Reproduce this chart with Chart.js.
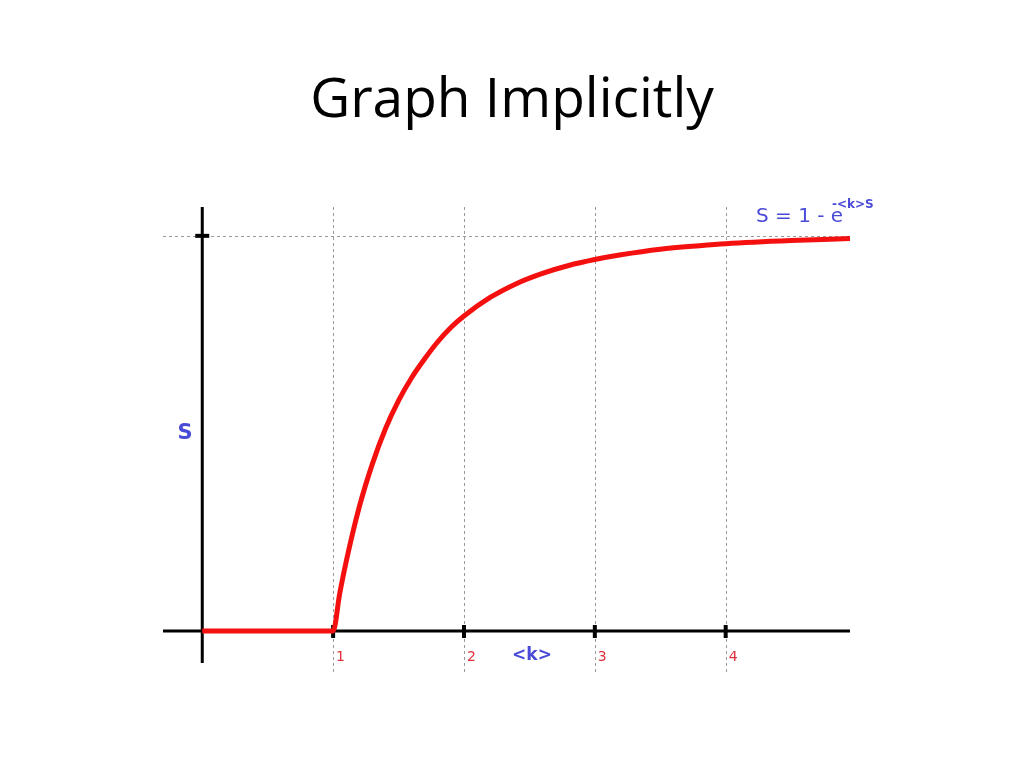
<!DOCTYPE html>
<html>
<head>
<meta charset="utf-8">
<script src="https://cdn.jsdelivr.net/npm/chart.js@4"></script>
<style>
  html, body { margin: 0; padding: 0; background: #fff; }
  #wrap { position: relative; width: 1024px; height: 768px; }
  #title { position: absolute; left: 0; top: 58px; width: 1024px; text-align: center;
           font-family: "Open Sans", "Noto Sans", sans-serif; font-size: 55px; color: #000; }
  canvas { position: absolute; left: 0; top: 0; }
</style>
</head>
<body>
<div id="wrap">
  <div id="title">Graph Implicitly</div>
  <canvas id="c" width="1024" height="768"></canvas>
</div>
<script>
// <k> values and S
const kValues = [0, 1, 1.05, 1.1, 1.2, 1.3, 1.4, 1.5, 1.6, 1.7, 1.8, 1.9, 2.0, 2.2, 2.4, 2.6, 2.8, 3.0, 3.2, 3.5, 3.8, 4.0, 4.5, 4.95];
const sValues = [0, 0, 0.094, 0.176, 0.314, 0.423, 0.512, 0.583, 0.641, 0.689, 0.732, 0.768, 0.797, 0.844, 0.879, 0.905, 0.925, 0.940, 0.952, 0.966, 0.975, 0.980, 0.988, 0.993];
const xTicks = [1, 2, 3, 4];
const yTicks = [1];

const points = kValues.map((k, i) => ({ x: k, y: sValues[i] }));

const decor = {
  id: "decor",
  beforeDatasetsDraw(chart) {
    const { ctx, scales: { x, y } } = chart;
    const x0 = x.getPixelForValue(0), y0 = y.getPixelForValue(0);
    const top = chart.chartArea.top, bottom = chart.chartArea.bottom;
    const left = chart.chartArea.left, right = chart.chartArea.right;
    ctx.save();
    // dashed guide lines
    ctx.strokeStyle = "#9a9a9a";
    ctx.lineWidth = 1;
    ctx.setLineDash([3, 3]);
    xTicks.forEach(t => {
      const px = Math.round(x.getPixelForValue(t)) + 0.5;
      ctx.beginPath(); ctx.moveTo(px, top); ctx.lineTo(px, bottom + 12); ctx.stroke();
    });
    yTicks.forEach(t => {
      const py = Math.round(y.getPixelForValue(t)) + 0.5;
      ctx.beginPath(); ctx.moveTo(left, py); ctx.lineTo(right, py); ctx.stroke();
    });
    ctx.setLineDash([]);
    // axes
    ctx.strokeStyle = "#000";
    ctx.lineWidth = 3;
    ctx.beginPath(); ctx.moveTo(left, y0); ctx.lineTo(right, y0); ctx.stroke();
    ctx.beginPath(); ctx.moveTo(x0, top); ctx.lineTo(x0, bottom); ctx.stroke();
    // tick marks
    ctx.lineWidth = 4;
    xTicks.forEach(t => {
      const px = x.getPixelForValue(t);
      ctx.beginPath(); ctx.moveTo(px, y0 - 6); ctx.lineTo(px, y0 + 7); ctx.stroke();
    });
    yTicks.forEach(t => {
      const py = y.getPixelForValue(t);
      ctx.beginPath(); ctx.moveTo(x0 - 7, py); ctx.lineTo(x0 + 7, py); ctx.stroke();
    });
    ctx.restore();
  },
  afterDraw(chart) {
    const { ctx, scales: { x, y } } = chart;
    const y0 = y.getPixelForValue(0);
    ctx.save();
    ctx.textBaseline = "middle";
    // tick labels
    ctx.fillStyle = "#e0303a";
    ctx.font = "14px 'DejaVu Sans', sans-serif";
    ctx.textAlign = "left";
    xTicks.forEach(t => ctx.fillText(String(t), x.getPixelForValue(t) + 3, y0 + 26));
    // axis titles
    ctx.fillStyle = "#4a4ad8";
    ctx.font = "bold 17px 'DejaVu Sans', sans-serif";
    ctx.textAlign = "center";
    ctx.fillText("<k>", x.getPixelForValue(2.52), y0 + 25);
    ctx.font = "bold 21px 'DejaVu Sans', sans-serif";
    ctx.fillText("S", 185, y.getPixelForValue(0.5));
    // formula
    ctx.font = "20px 'DejaVu Sans', sans-serif";
    ctx.textAlign = "left";
    ctx.fillText("S = 1 - e", 756, 217);
    ctx.font = "bold 12px 'DejaVu Sans', sans-serif";
    ctx.fillText("-<k>S", 832, 205);
    ctx.restore();
  }
};

new Chart(document.getElementById("c"), {
  type: "scatter",
  data: {
    datasets: [{
      data: points,
      showLine: true,
      borderColor: "#f51010",
      borderWidth: 5,
      pointRadius: 0,
      cubicInterpolationMode: "monotone"
    }]
  },
  options: {
    responsive: false,
    animation: false,
    layout: { padding: { left: 163, right: 174, top: 207, bottom: 105 } },
    plugins: { legend: { display: false }, tooltip: { enabled: false } },
    scales: {
      x: { type: "linear", min: -0.3, max: 4.95, display: false },
      y: { type: "linear", min: -0.081, max: 1.073, display: false }
    }
  },
  plugins: [decor]
});
</script>
</body>
</html>
